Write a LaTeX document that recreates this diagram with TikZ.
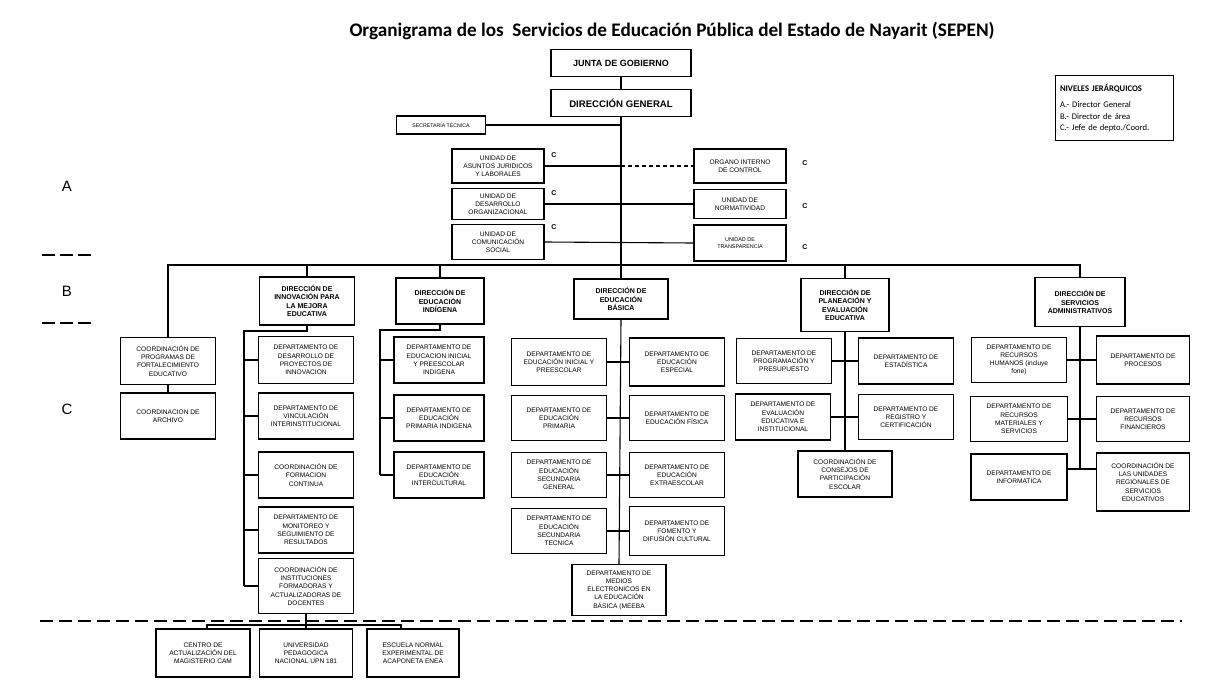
\documentclass[tikz,border=0pt]{standalone}
\usepackage{fontspec}
\setmainfont{Liberation Sans}
\newfontfamily\calfont{Carlito}

\begin{document}
\begin{tikzpicture}
[
    x=1pt, y=-1pt,
    box/.style={draw, line width=1.1pt, align=center, inner sep=1pt, font=\fontsize{6.6}{8.2}\selectfont},
    dept/.style={box, minimum width=95, minimum height=46},
    unit/.style={box, minimum width=92, minimum height=33},
    dir/.style={box, minimum width=90, minimum height=48, font=\fontsize{7}{8.4}\selectfont\bfseries},
    top/.style={box, minimum width=140, minimum height=27, font=\fontsize{9}{10}\selectfont\bfseries},
    link/.style={line width=1.1pt},
    lvl/.style={font=\fontsize{15}{15}\selectfont},
    tag/.style={font=\fontsize{7}{7}\selectfont\bfseries},
]
\useasboundingbox (0,0) rectangle (1218,696);

% title and legend
\node (title) at (672,31) {\calfont\bfseries\fontsize{19.2}{20}\selectfont Organigrama de los\ \ Servicios de Educación Pública del Estado de Nayarit (SEPEN)};
\node [draw, line width=0.9pt, align=left, text width=108, inner xsep=5, minimum height=65,
       font=\calfont\fontsize{8.6}{11.4}\selectfont] (niveles) at (1114,108)
{\textbf{NIVELES JERÁRQUICOS}\\[5pt] A.- Director General\\ B.- Director de área\\ C.- Jefe de depto./Coord.};

% levels
\node [lvl] (lvla) at (67,186) {A};
\node [lvl] (lvlb) at (67,291) {B};
\node [lvl] (lvlc) at (67,409) {C};
\draw [line width=1.5pt, dash pattern=on 13pt off 5pt] (42,255) -- (91,255);
\draw [line width=1.5pt, dash pattern=on 13pt off 5pt] (42,323) -- (91,323);

% level A
\node [top] (junta) at (621,63) {JUNTA DE GOBIERNO};
\node [top, font=\fontsize{9.6}{10}\selectfont\bfseries] (dirgen) at (621,103) {DIRECCIÓN GENERAL};
\node [box, minimum width=89, minimum height=18, font=\fontsize{5.2}{6}\selectfont] (sectec) at (441,125) {SECRETARÍA TÉCNICA};

\node [unit, minimum height=34] (uajl) at (498,166) {UNIDAD DE\\ASUNTOS JURIDICOS\\Y LABORALES};
\node [unit, minimum height=31] (udo) at (498,204) {UNIDAD DE\\DESARROLLO\\ORGANIZACIONAL};
\node [unit, minimum height=35] (ucs) at (498,242) {UNIDAD DE\\COMUNICACIÓN\\SOCIAL};
\node [unit, minimum height=34] (oic) at (740,166) {ORGANO INTERNO\\DE CONTROL};
\node [unit, minimum height=29] (unorm) at (740,204) {UNIDAD DE\\NORMATIVIDAD};
\node [unit, minimum height=36, font=\fontsize{5.4}{7}\selectfont] (utransp) at (740,243) {UNIDAD DE\\TRANSPARENCIA};

\node [tag] (tag1) at (554,155) {C};
\node [tag] (tag2) at (554,193) {C};
\node [tag] (tag3) at (554,227) {C};
\node [tag] (tag4) at (805,163) {C};
\node [tag] (tag5) at (805,206) {C};
\node [tag] (tag6) at (805,247) {C};

% level B
\node [dir, minimum width=95] (dinnov) at (307,301) {DIRECCIÓN DE\\INNOVACIÓN PARA\\LA MEJORA\\EDUCATIVA};
\node [dir, minimum width=88, minimum height=46] (dindig) at (440,301) {DIRECCIÓN DE\\EDUCACIÓN\\INDÍGENA};
\node [dir, minimum width=94, minimum height=40] (dbasica) at (621,299) {DIRECCIÓN DE\\EDUCACIÓN\\BÁSICA};
\node [dir, minimum width=88, minimum height=53] (dplan) at (845,305) {DIRECCIÓN DE\\PLANEACIÓN Y\\EVALUACIÓN\\EDUCATIVA};
\node [dir, minimum width=90, minimum height=49] (dserv) at (1080,302) {DIRECCIÓN DE\\SERVICIOS\\ADMINISTRATIVOS};

% level C: coordinations
\node [dept, minimum height=47] (cprog) at (168,361) {COORDINACIÓN DE\\PROGRAMAS DE\\FORTALECIMIENTO\\EDUCATIVO};
\node [dept] (carch) at (168,416) {COORDINACION DE\\ARCHIVO};

% innovacion
\node [dept, minimum height=47] (inn1) at (306,360) {DEPARTAMENTO DE\\DESARROLLO DE\\PROYECTOS DE\\INNOVACION};
\node [dept] (inn2) at (306,416) {DEPARTAMENTO DE\\VINCULACIÓN\\INTERINSTITUCIONAL};
\node [dept] (inn3) at (306,475) {COORDINACIÓN DE\\FORMACION\\CONTINUA};
\node [dept] (inn4) at (306,530) {DEPARTAMENTO DE\\MONITOREO Y\\SEGUIMIENTO DE\\RESULTADOS};
\node [dept, minimum height=55] (inn5) at (306,586) {COORDINACIÓN DE\\INSTITUCIONES\\FORMADORAS Y\\ACTUALIZADORAS DE\\DOCENTES};

% indigena
\node [dept, minimum width=90] (ind1) at (439,360) {DEPARTAMENTO DE\\EDUCACION INICIAL\\Y PREESCOLAR\\INDIGENA};
\node [dept, minimum width=90] (ind2) at (439,418) {DEPARTAMENTO DE\\EDUCACIÓN\\PRIMARIA INDIGENA};
\node [dept, minimum width=90] (ind3) at (439,475) {DEPARTAMENTO DE\\EDUCACIÓN\\INTERCULTURAL};

% basica
\node [dept, minimum height=47] (bas1) at (559,362) {DEPARTAMENTO DE\\EDUCACIÓN INICIAL Y\\PREESCOLAR};
\node [dept, minimum height=45] (bas2) at (559,418) {DEPARTAMENTO DE\\EDUCACIÓN\\PRIMARIA};
\node [dept, minimum height=45] (bas3) at (559,475) {DEPARTAMENTO DE\\EDUCACIÓN\\SECUNDARIA\\GENERAL};
\node [dept, minimum height=45] (bas4) at (559,531) {DEPARTAMENTO DE\\EDUCACIÓN\\SECUNDARIA\\TECNICA};
\node [dept, minimum height=48] (bas5) at (677,362) {DEPARTAMENTO DE\\EDUCACIÓN\\ESPECIAL};
\node [dept, minimum height=45] (bas6) at (677,418) {DEPARTAMENTO DE\\EDUCACIÓN FÍSICA};
\node [dept, minimum height=45] (bas7) at (677,475) {DEPARTAMENTO DE\\EDUCACIÓN\\EXTRAESCOLAR};
\node [dept, minimum height=49] (bas8) at (677,531) {DEPARTAMENTO DE\\FOMENTO Y\\DIFUSIÓN CULTURAL};
\node [dept, minimum width=94, minimum height=51] (medios) at (619,590) {DEPARTAMENTO DE\\MEDIOS\\ELECTRONICOS EN\\LA EDUCACIÓN\\BÁSICA (MEEBA};

% planeacion
\node [dept, minimum height=45] (pla1) at (784,361) {DEPARTAMENTO DE\\PROGRAMACIÓN Y\\PRESUPUESTO};
\node [dept] (pla2) at (783,417) {DEPARTAMENTO DE\\EVALUACIÓN\\EDUCATIVA E\\INSTITUCIONAL};
\node [dept] (pla3) at (906,361) {DEPARTAMENTO DE\\ESTADÍSTICA};
\node [dept, minimum height=45] (pla4) at (906,417) {DEPARTAMENTO DE\\REGISTRO Y\\CERTIFICACIÓN};
\node [dept, minimum width=94] (consejos) at (845,474) {COORDINACIÓN DE\\CONSEJOS DE\\PARTICIPACIÓN\\ESCOLAR};

% servicios
\node [dept, minimum height=45] (ser1) at (1019,360) {DEPARTAMENTO DE\\RECURSOS\\HUMANOS (incluye\\fone)};
\node [dept, minimum width=97, minimum height=45] (ser2) at (1019,419) {DEPARTAMENTO DE\\RECURSOS\\MATERIALES Y\\SERVICIOS};
\node [dept, minimum width=96] (ser3) at (1019,477) {DEPARTAMENTO DE\\INFORMATICA};
\node [dept, minimum width=93, minimum height=48] (ser4) at (1143,360) {DEPARTAMENTO DE\\PROCESOS};
\node [dept, minimum width=93, minimum height=45] (ser5) at (1143,419) {DEPARTAMENTO DE\\RECURSOS\\FINANCIEROS};
\node [dept, minimum width=93, minimum height=58] (ser6) at (1143,482) {COORDINACIÓN DE\\LAS UNIDADES\\REGIONALES DE\\SERVICIOS\\EDUCATIVOS};

% below the line
\node [dept, minimum width=94, minimum height=48] (cam) at (203,653) {CENTRO DE\\ACTUALIZACIÓN DEL\\MAGISTERIO CAM};
\node [dept, minimum width=93, minimum height=48] (upn) at (306,653) {UNIVERSIDAD\\PEDAGOGICA\\NACIONAL UPN 181};
\node [dept, minimum width=92, minimum height=48] (enea) at (413,653) {ESCUELA NORMAL\\EXPERIMENTAL DE\\ACAPONETA ENEA};

% connectors
\coordinate (busL) at (168,265);
\coordinate (busR) at (1080,265);
\coordinate (innspine) at (244,331);
\coordinate (indspine) at (380,330);
\coordinate (servend) at (1080,469);
\coordinate (lowbus) at (306,625);

\draw [link] (junta) -- (dirgen);
\draw [link] (dirgen.south) -- (dirgen.south |- busL);
\draw [link] (sectec.east) -- (sectec.east -| dirgen.south);
\draw [link] (uajl.east) -- (uajl.east -| dirgen.south);
\draw [link, dash pattern=on 4pt off 3pt] (uajl.east -| dirgen.south) -- (oic.west);
\draw [link] (udo.east) -- (unorm.west);
\draw [link] (ucs.east) -- (utransp.west);

\draw [link] (cprog.north) -- (busL) -- (busR) -- (dserv.north);
\foreach \d in {dinnov,dindig,dbasica,dplan}
    \draw [link] (\d.north) -- (\d.north |- busL);
\draw [link] (cprog.south) -- (carch.north);

\draw [link] (dinnov.south) |- (innspine) -- (innspine |- inn5.west);
\foreach \n in {inn1,inn2,inn3,inn4,inn5}
    \draw [link] (\n.west) -- (\n.west -| innspine);

\draw [link] (dindig.south) |- (indspine) -- (indspine |- ind3.west);
\foreach \n in {ind1,ind2,ind3}
    \draw [link] (\n.west) -- (\n.west -| indspine);

\draw [link] (dbasica.south) -- (medios.north);
\foreach \a/\b in {bas1/bas5,bas2/bas6,bas3/bas7,bas4/bas8}
    \draw [link] (\a.east) -- (\b.west);

\draw [link] (dplan.south) -- (consejos.north);
\draw [link] (pla1.east) -- (pla3.west);
\draw [link] (pla2.east) -- (pla4.west);

\draw [link] (dserv.south) -- (servend);
\draw [link] (ser1.east) -- (ser4.west);
\draw [link] (ser2.east) -- (ser5.west);
\draw [link] (ser3.east |- servend) -- (ser6.west |- servend);

\draw [line width=1.6pt, dash pattern=on 13pt off 6pt] (40,621) -- (1182,621);
\draw [link] (inn5.south) -- (lowbus);
\draw [link] ([xshift=4]cam.north) |- (lowbus) -| ([xshift=-12]enea.north);
\draw [link] (lowbus) -- (upn.north);
\end{tikzpicture}
\end{document}
